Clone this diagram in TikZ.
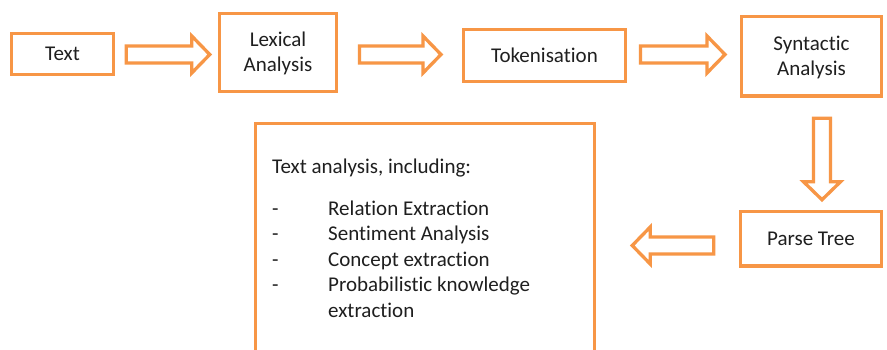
\documentclass[tikz,border=0pt]{standalone}
\usepackage{fontspec}
\setmainfont{Carlito}[Ligatures=NoCommon]
\usetikzlibrary{calc}
\definecolor{orng}{HTML}{F79646}
\definecolor{txt}{HTML}{1F1F1F}
\tikzset{
  stagebox/.style={draw=orng, line width=3.5pt, fill=white, rectangle, inner sep=0pt,
    align=center, text=txt, font=\fontsize{21}{25}\selectfont},
  twoline/.style={text height=43pt, text depth=4.5pt},
  listtext/.style={anchor=base west, inner sep=0pt, text=txt, font=\fontsize{21}{25}\selectfont},
  barrow/.pic={
    \draw[draw=orng, line width=3.3pt, fill=white, line join=miter]
      (0pt,-8.5pt) -- (#1pt-18pt,-8.5pt) -- (#1pt-18pt,-18.5pt) -- (#1pt,0pt)
      -- (#1pt-18pt,18.5pt) -- (#1pt-18pt,8.5pt) -- (0pt,8.5pt) -- cycle;
  }
}
\begin{document}
\begin{tikzpicture}[x=1pt,y=-1pt]
\useasboundingbox (0,0) rectangle (887,349);
\clip (0,0) rectangle (887,349);
\fill[white] (0,0) rectangle (887,349);

% stage boxes
\node[stagebox, minimum width=102pt, minimum height=41pt] (text) at (62.5,54) {Text};
\node[stagebox, twoline, minimum width=117pt, minimum height=78pt] (lex) at (278,52.5) {Lexical\\Analysis};
\node[stagebox, minimum width=162pt, minimum height=52pt] (tok) at (544.5,55.5) {Tokenisation};
\node[stagebox, twoline, minimum width=140pt, minimum height=79.5pt] (syn) at (811.5,56.25) {Syntactic\\Analysis};
\node[stagebox, minimum width=141pt, minimum height=54.5pt] (parse) at (811,238.75) {Parse Tree};
\node[stagebox, minimum width=339pt, minimum height=246.5pt] (ana) at (425,246.75) {};

% text inside the analysis box
\node[listtext] (head) at (272,173) {Text analysis, including:};
\foreach \i/\t in {0/Relation Extraction,1/Sentiment Analysis,2/Concept extraction,3/Probabilistic knowledge}{
  \node[listtext] (d\i) at (272,215+25.5*\i) {-};
  \node[listtext] (it\i) at (328,215+25.5*\i) {\t};
}
\node[listtext] (it4) at (328,317) {extraction};

% block arrows between stages
\coordinate (a1) at ($(text.east)+(11,0.5)$);
\coordinate (a2) at (359.5,54.5);
\coordinate (a3) at (640.5,54.5);
\coordinate (a4) at ($(syn.south)+(10.5,20.5)$);
\coordinate (a5) at ($(parse.west)+(-25,6.75)$);
\pic at (a1) {barrow=83.5};
\pic at (a2) {barrow=81.5};
\pic at (a3) {barrow=84.5};
\pic[rotate=-90] at (a4) {barrow=81.5};
\pic[rotate=180] at (a5) {barrow=81.5};
\end{tikzpicture}
\end{document}
